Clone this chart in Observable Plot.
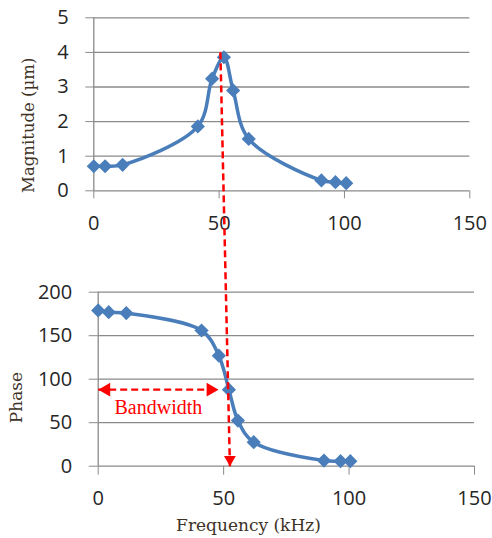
<!DOCTYPE html>
<html>
<head>
<meta charset="utf-8">
<script src="https://cdn.jsdelivr.net/npm/d3@7"></script>
<script src="https://cdn.jsdelivr.net/npm/@observablehq/plot@0.6"></script>
<style>
  html, body { margin: 0; padding: 0; background: #fff; }
  #chart { position: relative; width: 492px; height: 538px; }
  #chart svg { display: block; overflow: visible; }
</style>
</head>
<body>
<div id="chart"></div>
<script>
// ---- data ----
const freqMag   = [0, 4.5, 11.5, 41.5, 47.2, 51.9, 55.6, 61.8, 90.8, 96.4, 100.7];
const magnitude = [0.71, 0.71, 0.75, 1.86, 3.24, 3.86, 2.9, 1.5, 0.3, 0.25, 0.22];
const freqPhase = [0, 4.2, 11.2, 41.2, 48.1, 52.1, 55.7, 62, 90, 96.6, 100.5];
const phase     = [179, 177, 176, 156, 127, 88, 52.5, 27.6, 6.5, 5.8, 5.8];

const xTicks = [0, 50, 100, 150];
const magTicks = [0, 1, 2, 3, 4, 5];
const phaseTicks = [0, 50, 100, 150, 200];

const magLabel = "Magnitude (µm)";
const phaseLabel = "Phase";
const freqLabel = "Frequency (kHz)";
const bandwidthLabel = "Bandwidth";

// annotations (data units)
const bandwidthRange = [0, 48];     // kHz
const bandwidthPhase = 88;          // phase level of the arrow
const resonanceTop = {f: 50.5, mag: 4};   // start of the red dashed line (top panel)
const resonanceBottom = {f: 52.5, phase: 0}; // end of the red dashed line (bottom panel)

// ---- styles ----
const blue = "#4a7ebb";
const grid = "#8a8a8a";
const red = "#ff0000";
const tickFont = "'Open Sans', sans-serif";
const labelFont = "'DejaVu Serif', serif";
const labelColor = "#3d3226";

const magData = freqMag.map((f, i) => ({f, v: magnitude[i]}));
const phaseData = freqPhase.map((f, i) => ({f, v: phase[i]}));

const topH = 250, bottomH = 288;

const topChart = Plot.plot({
  width: 492, height: topH,
  marginLeft: 93.3, marginRight: 22.7, marginTop: 17.3, marginBottom: 59.7,
  x: {domain: [0, 150]},
  y: {domain: [0, 5]},
  style: {fontFamily: tickFont, fontSize: "20px", color: "#262626", background: "transparent", overflow: "visible"},
  marks: [
    Plot.gridY(magTicks, {stroke: grid, strokeOpacity: 1, strokeWidth: 1.3}),
    Plot.axisY(magTicks, {tickSize: 8, tickPadding: 17, stroke: grid, strokeOpacity: 1, label: null, tickFormat: d => d}),
    Plot.axisX(xTicks, {tickSize: 8, tickPadding: 16.5, stroke: grid, strokeOpacity: 1, label: null, tickFormat: d => d}),
    Plot.ruleX([0], {stroke: grid, strokeWidth: 1.3}),
    Plot.line(magData, {x: "f", y: "v", curve: "catmull-rom", stroke: blue, strokeWidth: 3.5}),
    Plot.dot(magData, {x: "f", y: "v", symbol: "diamond2", r: 6.4, fill: blue, stroke: null}),
    Plot.text([magLabel], {frameAnchor: "left", textAnchor: "middle", lineAnchor: "middle", dx: -65.3, dy: 21, rotate: -90, fontFamily: labelFont, fontSize: 16.5, fill: labelColor})
  ]
});

function bottomOptions(extra) {
  return {
    width: 492, height: bottomH,
    marginLeft: 97.7, marginRight: 18, marginTop: 41.7, marginBottom: 72.3,
    x: {domain: [0, 150]},
    y: {domain: [0, 200]},
    style: {fontFamily: tickFont, fontSize: "20px", color: "#262626", background: "transparent", overflow: "visible"},
    marks: [
      Plot.gridY(phaseTicks, {stroke: grid, strokeOpacity: 1, strokeWidth: 1.3}),
      Plot.axisY(phaseTicks, {tickSize: 9, tickPadding: 17, stroke: grid, strokeOpacity: 1, label: null, tickFormat: d => d}),
      Plot.axisX(xTicks, {tickSize: 9, tickPadding: 15.5, stroke: grid, strokeOpacity: 1, label: null, tickFormat: d => d}),
      Plot.ruleX([0], {stroke: grid, strokeWidth: 1.3}),
      Plot.line(phaseData, {x: "f", y: "v", curve: "catmull-rom", stroke: blue, strokeWidth: 3.5}),
      Plot.dot(phaseData, {x: "f", y: "v", symbol: "diamond2", r: 6.4, fill: blue, stroke: null}),
      Plot.text([phaseLabel], {frameAnchor: "left", textAnchor: "middle", lineAnchor: "middle", dx: -81.7, dy: 18.3, rotate: -90, fontFamily: labelFont, fontSize: 17, fill: labelColor}),
      Plot.text([freqLabel], {frameAnchor: "bottom", textAnchor: "middle", lineAnchor: "middle", dx: -37.9, dy: 59.3, fontFamily: labelFont, fontSize: 17, fill: labelColor}),
      ...extra
    ]
  };
}

const probe = Plot.plot(bottomOptions([]));
// map the top-panel peak into bottom-panel data units through the plots' own scales
const pxTop = topChart.scale("x").apply(resonanceTop.f);
const pyTop = topChart.scale("y").apply(resonanceTop.mag);
const fStart = probe.scale("x").invert(pxTop);
const phaseStart = probe.scale("y").invert(pyTop - topH);

const bw = [{x1: bandwidthRange[0], x2: bandwidthRange[1], y: bandwidthPhase}];

const bottomChart = Plot.plot(bottomOptions([
  // bandwidth double arrow
  Plot.link(bw, {x1: "x1", x2: "x2", y1: "y", y2: "y", stroke: red, strokeWidth: 2.2, strokeDasharray: "7,4"}),
  Plot.dot(bw, {x: "x1", y: "y", symbol: "triangle", r: 5.1, rotate: -90, dx: 8, fill: red, stroke: null}),
  Plot.dot(bw, {x: "x2", y: "y", symbol: "triangle", r: 5.1, rotate: 90, dx: -8, fill: red, stroke: null}),
  Plot.text(bw, {x: d => (d.x1 + d.x2) / 2, y: "y", text: () => bandwidthLabel, dy: 18, fill: red, fontFamily: "'Liberation Serif', serif", fontSize: 20}),
  // resonance connector across both panels
  Plot.link([{x1: fStart, y1: phaseStart, x2: resonanceBottom.f, y2: resonanceBottom.phase}],
    {x1: "x1", y1: "y1", x2: "x2", y2: "y2", stroke: red, strokeWidth: 2.5, strokeDasharray: "7,4"}),
  Plot.dot([resonanceBottom], {x: "f", y: "phase", symbol: "triangle", r: 4.4, rotate: 180, dy: -6.7, fill: red, stroke: null})
]));

const root = document.getElementById("chart");
root.appendChild(topChart);
root.appendChild(bottomChart);
</script>
</body>
</html>
